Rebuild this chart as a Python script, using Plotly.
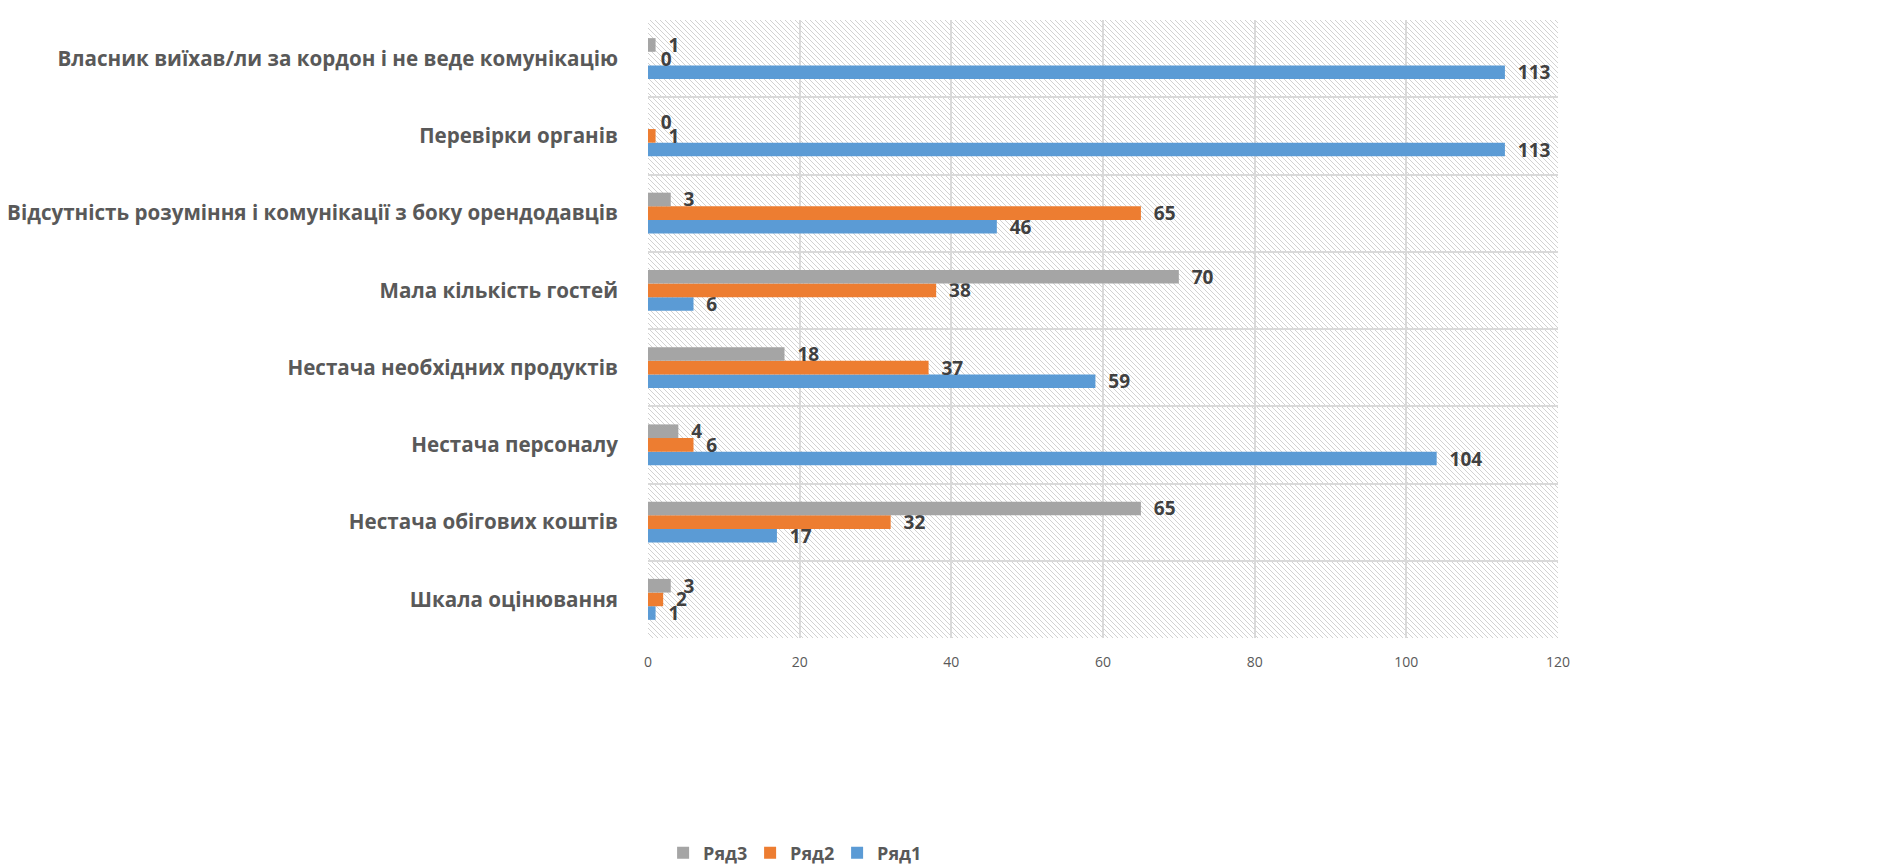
import base64
import plotly.graph_objects as go

categories = [
    "Шкала оцінювання",
    "Нестача обігових коштів",
    "Нестача персоналу",
    "Нестача необхідних продуктів",
    "Мала кількість гостей",
    "Відсутність розуміння і комунікації з боку орендодавців",
    "Перевірки органів",
    "Власник виїхав/ли за кордон і не веде комунікацію",
]
ryad1 = [1, 17, 104, 59, 6, 46, 113, 113]
ryad2 = [2, 32, 6, 37, 38, 65, 1, 0]
ryad3 = [3, 65, 4, 18, 70, 3, 0, 1]
series_names = ["Ряд1", "Ряд2", "Ряд3"]
series_values = [ryad1, ryad2, ryad3]
series_colors = ["#5B9BD5", "#ED7D31", "#A5A5A5"]
x_ticks = [0, 20, 40, 60, 80, 100, 120]

fig = go.Figure()
for name, vals, col in zip(series_names, series_values, series_colors):
    fig.add_trace(go.Bar(
        y=categories, x=vals, name=name, orientation="h",
        marker=dict(color=col, line=dict(width=0)),
        text=["\u00a0\u00a0" + str(v) for v in vals], textposition="outside",
        constraintext="none",
        textfont=dict(family="Open Sans", size=19, color="#404040", weight="bold"),
        cliponaxis=False,
    ))

# hatched plot background
W, H = 910, 618
lines = "".join(
    f'<line x1="{i}" y1="0" x2="{i + H}" y2="{H}" stroke="#d2d2d2" stroke-width="1"/>'
    for i in range(-H, W + 5, 5)
)
svg = (f'<svg xmlns="http://www.w3.org/2000/svg" width="{W}" height="{H}" viewBox="0 0 {W} {H}" '
       f'preserveAspectRatio="none"><rect width="{W}" height="{H}" fill="white"/>{lines}</svg>')
uri = "data:image/svg+xml;base64," + base64.b64encode(svg.encode()).decode()

n = len(categories)
fig.update_layout(
    width=1899, height=866,
    margin=dict(l=640, r=349, t=12, b=236, autoexpand=False),
    paper_bgcolor="white", plot_bgcolor="rgba(0,0,0,0)",
    barmode="group", bargap=0.47, bargroupgap=0,
    font=dict(family="Open Sans", color="#595959"),
    images=[dict(source=uri, xref="paper", yref="paper", x=0, y=1, sizex=1, sizey=1,
                 sizing="stretch", layer="below", xanchor="left", yanchor="top")],
    xaxis=dict(range=[0, 120], tickvals=x_ticks, showgrid=True, gridcolor="#D9D9D9",
               gridwidth=1.5, zeroline=False, ticks="", ticklabelstandoff=14,
               tickfont=dict(size=14, color="#595959"), automargin=False),
    yaxis=dict(showgrid=False, ticks="", ticklabelstandoff=29, automargin=False,
               tickfont=dict(size=20.6, color="#595959", weight="bold"),
               range=[-0.5, n - 0.5]),
    yaxis2=dict(overlaying="y", range=[-0.5, n - 0.5], automargin=False,
                tickvals=[i - 0.5 for i in range(n + 1)], showticklabels=False,
                showgrid=True, gridcolor="#D9D9D9", gridwidth=1.5, zeroline=False, ticks=""),
    legend=dict(orientation="h", x=0.16, xanchor="center", y=-0.348, yanchor="middle",
                traceorder="reversed", font=dict(size=18, color="#595959", weight="bold"),
                itemwidth=30, entrywidth=42, entrywidthmode="pixels"),
    showlegend=True,
)
fig.add_trace(go.Scatter(x=[None], y=[None], yaxis="y2", showlegend=False, hoverinfo="skip"))

fig.write_html("out.html")
